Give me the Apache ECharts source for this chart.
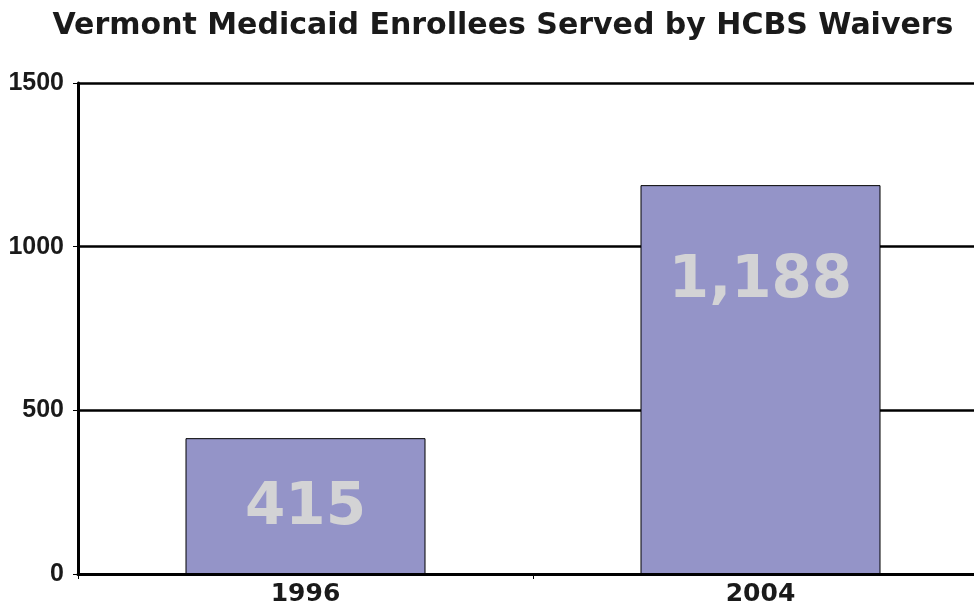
<!DOCTYPE html>
<html>
<head>
<meta charset="utf-8">
<script src="https://cdn.jsdelivr.net/npm/echarts@6/dist/echarts.min.js"></script>
<style>
  html, body { margin: 0; padding: 0; background: #fff; overflow: hidden; }
  /* plot runs past the right edge of the window in the reference */
  #chart { width: 988px; height: 607px; }
</style>
</head>
<body>
<div id="chart"></div>
<script>
// data
const years = ['1996', '2004']
const enrollees = [415, 1188]
const labelTexts = ['415', '1,188']

const chart = echarts.init(document.getElementById('chart'))

chart.setOption({
  animation: false,
  title: {
    text: 'Vermont Medicaid Enrollees Served by HCBS Waivers',
    left: 498, top: 6, textAlign: 'center',
    textStyle: { fontFamily: 'DejaVu Sans', fontSize: 30, fontWeight: 'bold', color: '#1a1a1a' }
  },
  grid: { left: 78, top: 83, bottom: 31, right: 0 },
  xAxis: {
    type: 'category',
    data: years,
    axisLine: { lineStyle: { color: '#000', width: 3 } },
    axisTick: { show: true, length: 5, lineStyle: { color: '#000', width: 1 } },
    axisLabel: {
      margin: 8,
      fontFamily: 'DejaVu Sans', fontSize: 25, fontWeight: 'bold', color: '#1a1a1a'
    }
  },
  yAxis: {
    type: 'value',
    min: 0, max: 1500, interval: 500,
    axisLine: { show: true, lineStyle: { color: '#000', width: 3 } },
    axisTick: { show: true, length: 5, lineStyle: { color: '#000', width: 1 } },
    splitLine: { lineStyle: { color: '#000', width: 2.5 } },
    axisLabel: {
      margin: 14,
      formatter: function (v) { return String(v) },
      fontFamily: 'Liberation Sans', fontSize: 25, fontWeight: 'bold', color: '#1a1a1a'
    }
  },
  series: [{
    type: 'bar',
    barWidth: 240,
    data: enrollees.map(function (v, i) {
      return {
        value: v,
        label: {
          show: true,
          formatter: labelTexts[i],
          position: i === 0 ? ['50%', 71] : ['50%', 97],
          align: 'center', verticalAlign: 'middle'
        }
      }
    }),
    itemStyle: { color: '#9494c8', borderColor: '#000', borderWidth: 1 },
    label: {
      fontFamily: 'DejaVu Sans', fontSize: 58, fontWeight: 'bold', color: '#d3d3d5'
    }
  }]
})
</script>
</body>
</html>
